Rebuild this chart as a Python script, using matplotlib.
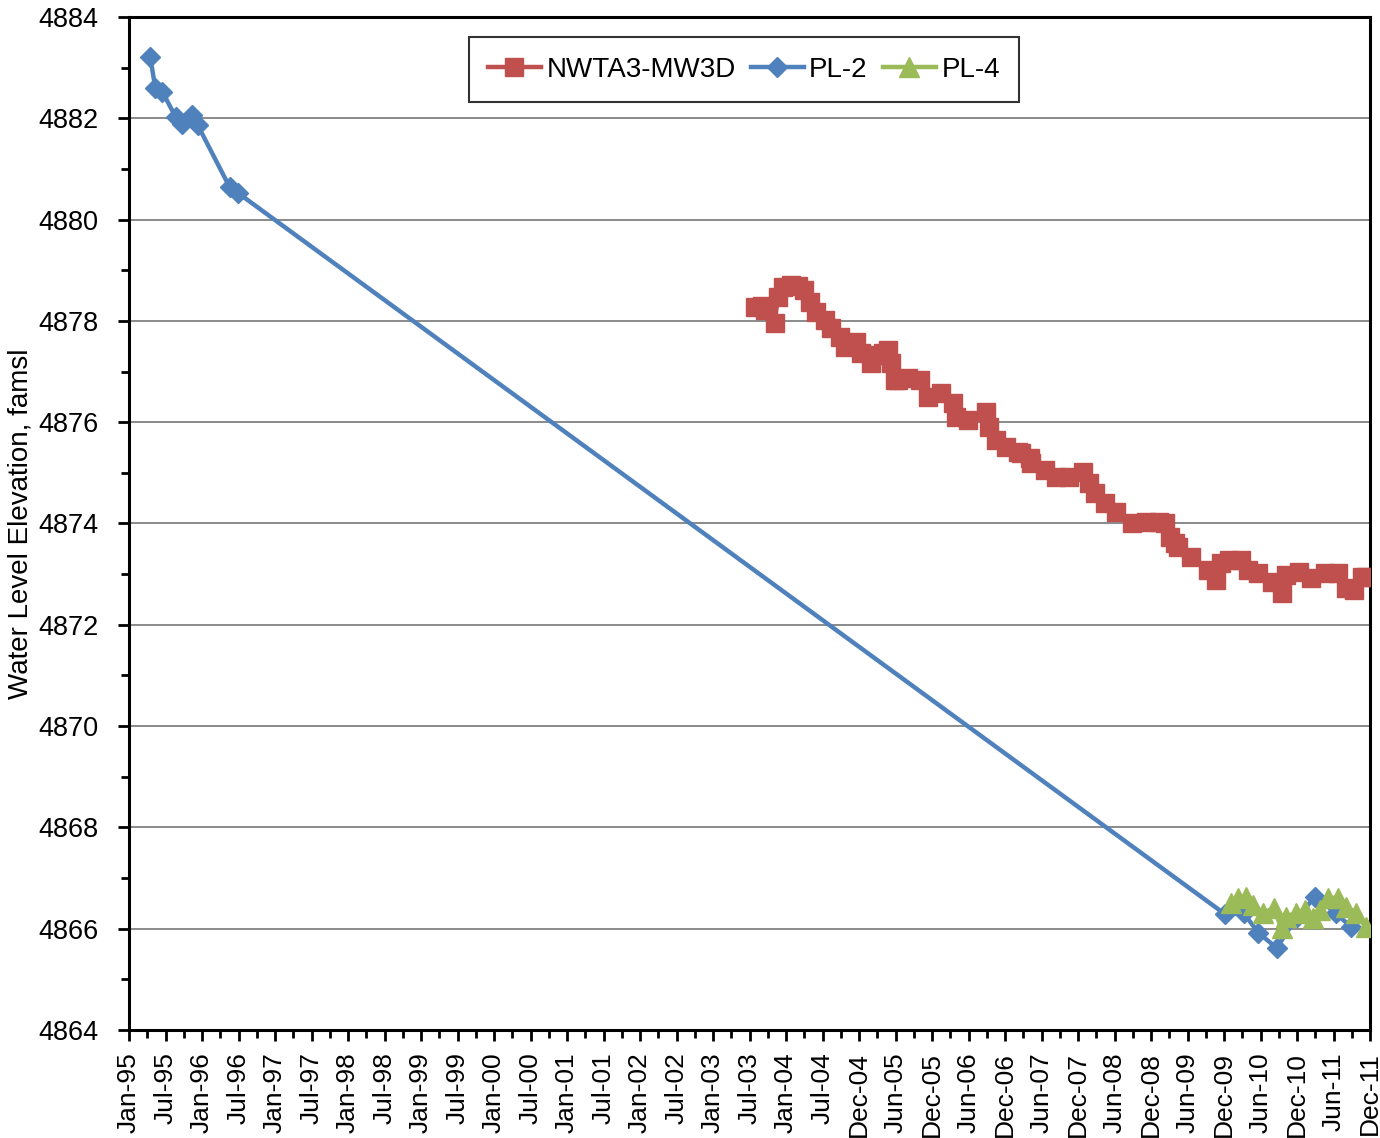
import datetime as dt
import matplotlib
matplotlib.use("Agg")
import matplotlib.pyplot as plt
import matplotlib.dates as mdates
from matplotlib.ticker import MultipleLocator

plt.rcParams['font.family'] = ['Liberation Sans', 'DejaVu Sans']

# NWTA3-MW3D (red squares)
nw_dates = ['2003-08-01', '2003-09-05', '2003-09-18', '2003-11-06', '2003-11-21', '2003-12-17',
            '2004-01-27', '2004-03-01', '2004-04-01', '2004-05-01', '2004-06-01', '2004-07-13',
            '2004-08-13', '2004-09-28', '2004-10-22', '2004-12-16', '2005-01-10', '2005-03-01',
            '2005-04-04', '2005-04-28', '2005-05-23', '2005-06-08', '2005-06-28', '2005-07-13',
            '2005-09-01', '2005-11-01', '2005-12-10', '2006-02-13', '2006-04-13', '2006-04-28',
            '2006-06-28', '2006-09-22', '2006-10-07', '2006-11-11', '2007-01-01', '2007-03-05',
            '2007-03-20', '2007-05-04', '2007-05-09', '2007-07-16', '2007-09-06', '2007-11-10',
            '2008-01-23', '2008-02-18', '2008-03-22', '2008-05-12', '2008-07-01', '2008-09-19',
            '2008-11-28', '2009-02-01', '2009-03-06', '2009-04-01', '2009-04-24', '2009-05-09',
            '2009-07-13', '2009-10-07', '2009-11-13', '2009-12-10', '2010-01-16', '2010-03-20',
            '2010-04-24', '2010-06-13', '2010-08-19', '2010-10-07', '2010-10-28', '2011-01-01',
            '2011-03-05', '2011-05-13', '2011-07-16', '2011-08-25', '2011-10-01', '2011-11-10',
            '2011-12-04']
nw_vals = [4878.27, 4878.30, 4878.22, 4877.96, 4878.47, 4878.67,
           4878.71, 4878.69, 4878.61, 4878.37, 4878.18, 4878.02,
           4877.86, 4877.68, 4877.48, 4877.58, 4877.37, 4877.17,
           4877.33, 4877.37, 4877.43, 4877.17, 4876.83, 4876.83,
           4876.87, 4876.83, 4876.50, 4876.58, 4876.38, 4876.10,
           4876.04, 4876.20, 4875.91, 4875.65, 4875.51, 4875.41,
           4875.39, 4875.29, 4875.19, 4875.06, 4874.92, 4874.92,
           4875.02, 4874.80, 4874.60, 4874.40, 4874.23, 4874.01,
           4874.03, 4874.03, 4874.00, 4873.73, 4873.62, 4873.54,
           4873.34, 4873.08, 4872.88, 4873.22, 4873.28, 4873.28,
           4873.08, 4873.02, 4872.85, 4872.63, 4872.98, 4873.04,
           4872.92, 4873.02, 4873.02, 4872.73, 4872.69, 4872.94,
           4872.94]

# PL-2 (blue diamonds)
pl2_dates = ['1995-04-28', '1995-05-23', '1995-06-28', '1995-09-01', '1995-10-01', '1995-11-20',
             '1995-12-20', '1996-05-28', '1996-07-07', '2009-12-28', '2010-04-01', '2010-06-13',
             '2010-09-13', '2010-12-22', '2011-03-25', '2011-07-04', '2011-09-19']
pl2_vals = [4883.21, 4882.60, 4882.52, 4882.03, 4881.89, 4882.07,
            4881.87, 4880.64, 4880.53, 4866.29, 4866.31, 4865.92,
            4865.62, 4866.23, 4866.63, 4866.31, 4866.03]

# PL-4 (green triangles)
pl4_dates = ['2010-01-26', '2010-03-05', '2010-04-14', '2010-05-19', '2010-07-08', '2010-08-28',
             '2010-10-07', '2010-10-27', '2010-12-16', '2011-02-03', '2011-03-13', '2011-04-18',
             '2011-05-28', '2011-07-16', '2011-08-25', '2011-10-15', '2011-11-30']
pl4_vals = [4866.51, 4866.61, 4866.63, 4866.47, 4866.31, 4866.41,
            4866.01, 4866.23, 4866.31, 4866.37, 4866.22, 4866.37,
            4866.61, 4866.61, 4866.43, 4866.31, 4866.03]

def todates(lst):
    return [dt.datetime.strptime(s, '%Y-%m-%d') for s in lst]

fig = plt.figure(figsize=(13.8, 11.38), dpi=100)
ax = fig.add_axes([129/1380, 1-1030/1138, (1370-129)/1380, (1030-17)/1138])

ax.plot(todates(nw_dates), nw_vals, color='#C0504D', lw=3.2, marker='s', ms=13.5,
        mec='#C0504D', label='NWTA3-MW3D', zorder=3)
ax.plot(todates(pl2_dates), pl2_vals, color='#4F81BD', lw=3.2, marker='D', ms=10.5,
        mec='#4F81BD', label='PL-2', zorder=4)
ax.plot(todates(pl4_dates), pl4_vals, color='#9BBB59', lw=3.2, marker='^', ms=14,
        mec='#9BBB59', label='PL-4', zorder=5)

# excel-like date axis: major every 182 days, minor every 91
start = dt.datetime(1995, 1, 12)
step = 182
major = [start + dt.timedelta(days=step*k) for k in range(35)]
minor = [start + dt.timedelta(days=91*k) for k in range(69)]
ax.set_xticks(mdates.date2num(major))
ax.set_xticks(mdates.date2num(minor), minor=True)
ax.xaxis.set_major_formatter(mdates.DateFormatter('%b-%y'))
ax.set_xlim(major[0], major[-1])

ax.set_ylim(4864, 4884)
ax.yaxis.set_major_locator(MultipleLocator(2))
ax.yaxis.set_minor_locator(MultipleLocator(1))
ax.grid(axis='y', which='major', color='#8a8a8a', lw=1.4)
ax.set_axisbelow(True)

ax.tick_params(axis='both', which='both', direction='out', width=2)
ax.tick_params(axis='both', which='major', length=8)
ax.tick_params(axis='both', which='minor', length=6)
ax.tick_params(axis='x', labelrotation=90, pad=8, labelsize=19)
ax.tick_params(axis='y', labelsize=19.5, pad=14)
for sp in ax.spines.values():
    sp.set_linewidth(2.2)
    sp.set_color('black')

ax.set_ylabel('Water Level Elevation, famsl', fontsize=20)
ax.yaxis.set_label_coords(-0.077, 0.5)

leg = ax.legend(loc='upper center', bbox_to_anchor=(0.4955, 0.98), ncol=3, fontsize=20,
                frameon=True, fancybox=False, edgecolor='black', handlelength=1.9,
                handletextpad=0.2, columnspacing=0.55, borderaxespad=0, borderpad=0.7)
leg.get_frame().set_linewidth(1.5)

fig.savefig('out.png', dpi=100)
